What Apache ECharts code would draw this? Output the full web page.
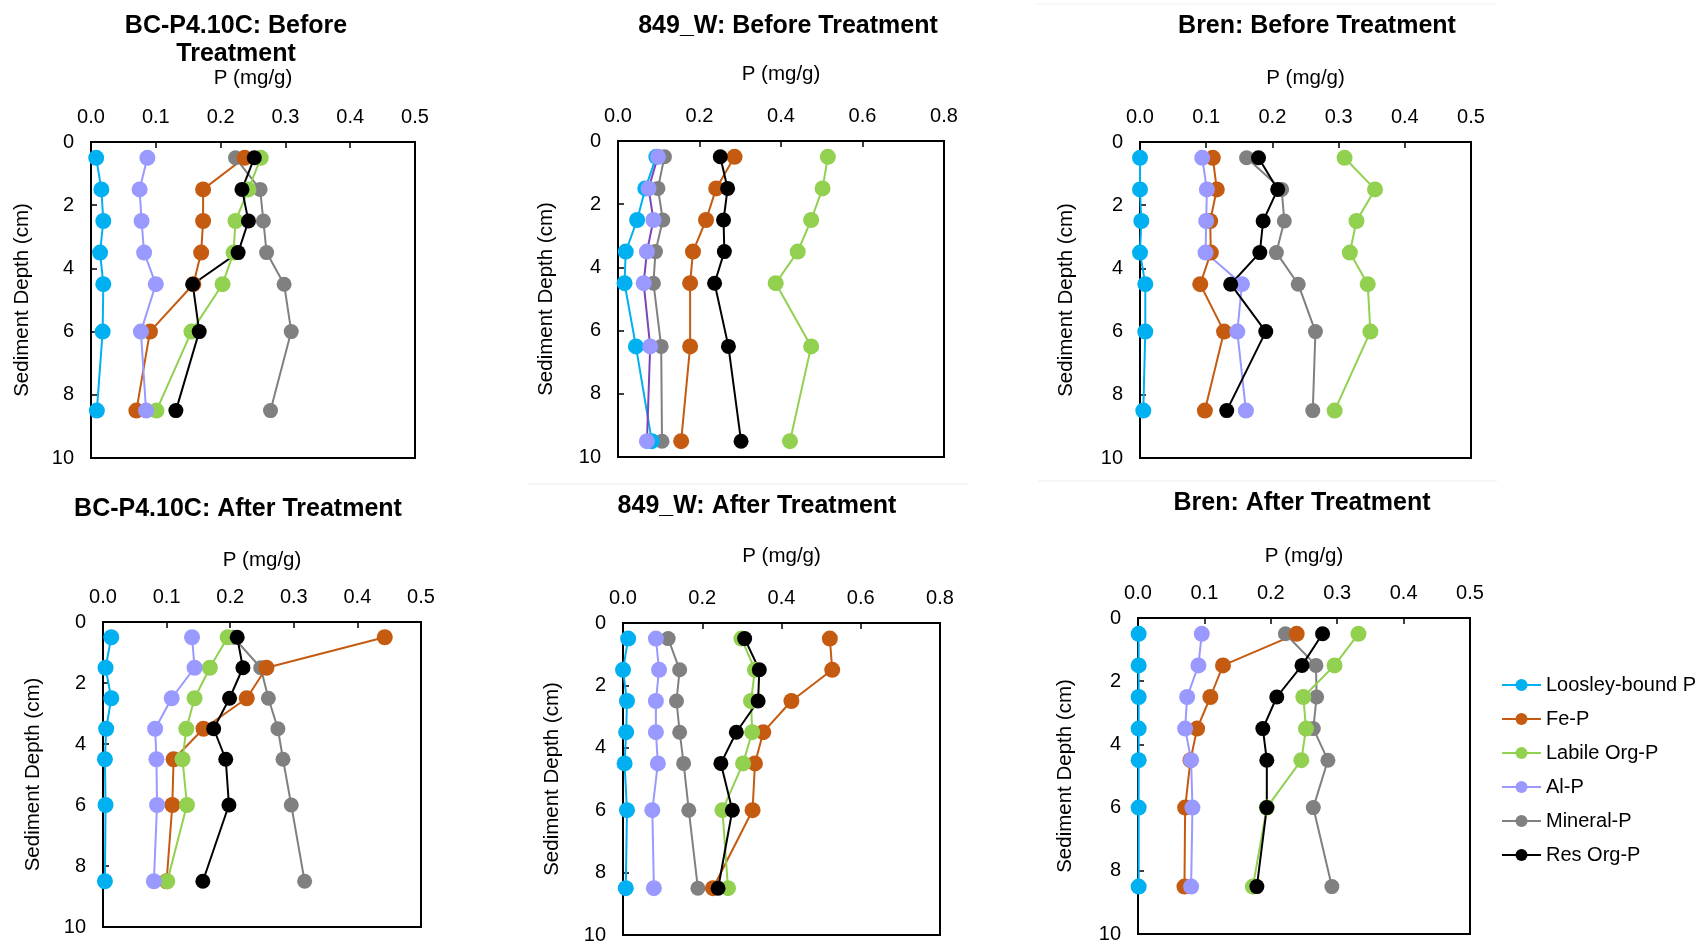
<!DOCTYPE html>
<html>
<head>
<meta charset="utf-8">
<script src="https://cdn.jsdelivr.net/npm/echarts@6/dist/echarts.min.js"></script>
<style>
html, body { margin: 0; padding: 0; background: #fff; }
#chart-container { width: 1695px; height: 943px; }
</style>
</head>
<body>
<div id="chart-container"></div>
<script>
var seriesNames = ['Loosley-bound P', 'Fe-P', 'Labile Org-P', 'Al-P', 'Mineral-P', 'Res Org-P'];
var seriesColors = ['#00B0F0', '#C55A11', '#92D050', '#9999FF', '#808080', '#000000'];

// sediment depths (cm)
var depthStd = [0.5, 1.5, 2.5, 3.5, 4.5, 6, 8.5];
var depth849Before = [0.5, 1.5, 2.5, 3.5, 4.5, 6.5, 9.5];

// P (mg/g), rows in the order of seriesNames
var bcBefore = [
  [0.008, 0.016, 0.019, 0.014, 0.019, 0.018, 0.009],
  [0.237, 0.173, 0.173, 0.170, 0.158, 0.091, 0.070],
  [0.262, 0.243, 0.223, 0.220, 0.203, 0.155, 0.101],
  [0.087, 0.075, 0.078, 0.082, 0.100, 0.077, 0.085],
  [0.223, 0.261, 0.266, 0.271, 0.298, 0.309, 0.277],
  [0.252, 0.233, 0.243, 0.227, 0.157, 0.167, 0.131]
];
var w849Before = [
  [0.094, 0.067, 0.047, 0.019, 0.016, 0.044, 0.083],
  [0.286, 0.241, 0.216, 0.184, 0.177, 0.177, 0.155],
  [0.515, 0.502, 0.474, 0.441, 0.387, 0.474, 0.422],
  [0.098, 0.075, 0.087, 0.071, 0.063, 0.079, 0.071],
  [0.114, 0.098, 0.110, 0.092, 0.087, 0.106, 0.108],
  [0.251, 0.269, 0.259, 0.261, 0.237, 0.271, 0.302]
];
var brenBefore = [
  [0.000, 0.000, 0.002, 0.000, 0.008, 0.008, 0.005],
  [0.110, 0.116, 0.106, 0.107, 0.091, 0.127, 0.098],
  [0.309, 0.355, 0.327, 0.317, 0.344, 0.348, 0.294],
  [0.094, 0.101, 0.100, 0.099, 0.154, 0.147, 0.160],
  [0.161, 0.214, 0.218, 0.206, 0.239, 0.265, 0.261],
  [0.179, 0.208, 0.186, 0.181, 0.137, 0.190, 0.131]
];
var bcAfter = [
  [0.013, 0.004, 0.013, 0.005, 0.003, 0.004, 0.003],
  [0.443, 0.257, 0.226, 0.158, 0.111, 0.109, 0.100],
  [0.196, 0.168, 0.144, 0.131, 0.125, 0.132, 0.101],
  [0.140, 0.144, 0.108, 0.082, 0.084, 0.085, 0.080],
  [0.205, 0.248, 0.260, 0.275, 0.283, 0.296, 0.317],
  [0.211, 0.220, 0.199, 0.174, 0.193, 0.198, 0.157]
];
var w849After = [
  [0.013, 0.000, 0.010, 0.008, 0.004, 0.010, 0.007],
  [0.522, 0.528, 0.425, 0.354, 0.333, 0.327, 0.227],
  [0.299, 0.333, 0.323, 0.326, 0.303, 0.251, 0.265],
  [0.083, 0.091, 0.083, 0.083, 0.088, 0.074, 0.078],
  [0.114, 0.143, 0.135, 0.143, 0.153, 0.166, 0.189],
  [0.307, 0.344, 0.341, 0.286, 0.247, 0.276, 0.240]
];
var brenAfter = [
  [0.001, 0.001, 0.001, 0.001, 0.001, 0.001, 0.001],
  [0.239, 0.128, 0.109, 0.089, 0.079, 0.071, 0.070],
  [0.332, 0.296, 0.249, 0.253, 0.246, 0.194, 0.173],
  [0.096, 0.091, 0.074, 0.071, 0.080, 0.082, 0.080],
  [0.222, 0.268, 0.269, 0.264, 0.286, 0.264, 0.292],
  [0.278, 0.247, 0.209, 0.188, 0.194, 0.194, 0.179]
];

var panelTitles = [
  'BC-P4.10C: Before\nTreatment', '849_W: Before Treatment', 'Bren: Before Treatment',
  'BC-P4.10C: After Treatment', '849_W: After Treatment', 'Bren: After Treatment'
];
var panelValues = [bcBefore, w849Before, brenBefore, bcAfter, w849After, brenAfter];
var panelDepths = [depthStd, depth849Before, depthStd, depthStd, depthStd, depthStd];
var xMaxes = [0.5, 0.8, 0.5, 0.5, 0.8, 0.5];
var xSteps = [0.1, 0.2, 0.1, 0.1, 0.2, 0.1];

// layout
var grids = [
  { left: 91, top: 142, width: 324, height: 316 },
  { left: 618, top: 141, width: 326, height: 316 },
  { left: 1140, top: 142, width: 331, height: 316 },
  { left: 103, top: 622, width: 318, height: 305 },
  { left: 623, top: 623, width: 317, height: 312 },
  { left: 1138, top: 618, width: 332, height: 316 }
];
var titlePos = [[236, 12], [788, 12], [1317, 12], [238, 495], [757, 492], [1302, 489]];
var xNameGap = [53, 56, 53, 51, 56, 51];
var yNameGap = [58, 61, 63, 59, 60, 62];
var drawOrder = [4, 0, 1, 2, 3, 5];
var markerSize = [16, 16, 16, 16, 15, 15];

var font = 'Liberation Sans, Arial, sans-serif';

var dom = document.getElementById('chart-container');
var myChart = echarts.init(dom);

var option = {
  animation: false,
  backgroundColor: '#fff',
  title: [],
  grid: [],
  xAxis: [],
  yAxis: [],
  series: [],
  legend: {
    orient: 'vertical',
    left: 1496,
    top: 670,
    itemWidth: 39,
    itemHeight: 15,
    itemGap: 14,
    data: seriesNames,
    textStyle: { fontFamily: font, fontSize: 20, color: '#000' }
  },
  graphic: [
    { type: 'line', shape: { x1: 528, y1: 484, x2: 968, y2: 484 }, style: { stroke: '#ededed', lineWidth: 1 } },
    { type: 'line', shape: { x1: 1038, y1: 481, x2: 1497, y2: 481 }, style: { stroke: '#ededed', lineWidth: 1 } },
    { type: 'line', shape: { x1: 1035, y1: 4, x2: 1497, y2: 4 }, style: { stroke: '#f2f2f2', lineWidth: 1 } }
  ]
};

for (var p = 0; p < 6; p++) {
  option.title.push({
    text: panelTitles[p],
    left: titlePos[p][0],
    top: titlePos[p][1],
    textAlign: 'center',
    padding: 0,
    textStyle: { fontFamily: font, fontSize: 25, fontWeight: 'bold', color: '#000', lineHeight: 28 }
  });
  var g = grids[p];
  option.grid.push({
    left: g.left, top: g.top, width: g.width, height: g.height,
    show: true, borderColor: '#000', borderWidth: 2,
    containLabel: false, outerBoundsMode: 'none'
  });
  option.xAxis.push({
    type: 'value', gridIndex: p, position: 'top',
    min: 0, max: xMaxes[p], interval: xSteps[p],
    name: 'P (mg/g)', nameLocation: 'middle', nameGap: xNameGap[p],
    nameTextStyle: { fontFamily: font, fontSize: 20.5, color: '#000' },
    axisLine: { show: true, lineStyle: { color: '#000', width: 2 } },
    axisTick: { show: true, inside: true, length: 6, lineStyle: { color: '#000', width: 1.5 } },
    axisLabel: {
      fontFamily: font, fontSize: 20, color: '#000', margin: 15,
      formatter: function (v) { return v.toFixed(1); }
    },
    splitLine: { show: false }
  });
  option.yAxis.push({
    type: 'value', gridIndex: p, inverse: true,
    min: 0, max: 10, interval: 2,
    name: 'Sediment Depth (cm)', nameLocation: 'middle', nameGap: yNameGap[p],
    nameTextStyle: { fontFamily: font, fontSize: 20.5, color: '#000' },
    axisLine: { show: true, lineStyle: { color: '#000', width: 2 } },
    axisTick: { show: true, inside: true, length: 6, lineStyle: { color: '#000', width: 1.5 } },
    axisLabel: { fontFamily: font, fontSize: 20, color: '#000', margin: 17 },
    splitLine: { show: false }
  });
  for (var j = 0; j < drawOrder.length; j++) {
    var k = drawOrder[j];
    var vals = panelValues[p][k];
    var deps = panelDepths[p];
    var pts = [];
    for (var i = 0; i < vals.length; i++) {
      pts.push([vals[i], deps[i]]);
    }
    var lineColor = seriesColors[k];
    if (p === 1 && k === 3) lineColor = '#7a45b8';
    option.series.push({
      type: 'line',
      name: seriesNames[k],
      xAxisIndex: p,
      yAxisIndex: p,
      data: pts,
      symbol: 'circle',
      symbolSize: markerSize[k],
      itemStyle: { color: seriesColors[k] },
      lineStyle: { color: lineColor, width: 2 },
      emphasis: { disabled: true }
    });
  }
}

myChart.setOption(option);
</script>
</body>
</html>
